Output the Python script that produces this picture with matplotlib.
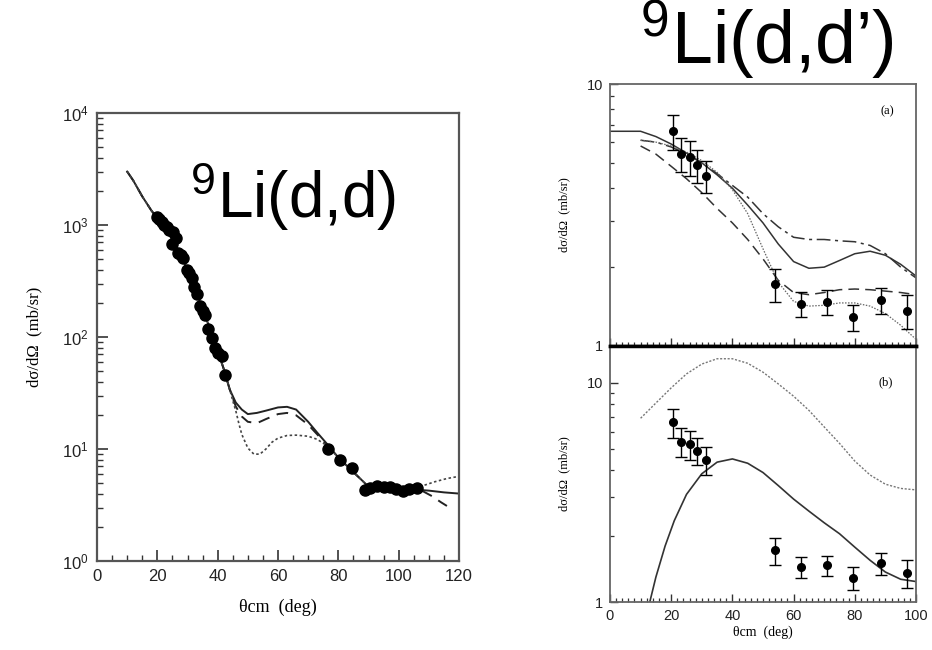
import numpy as np
import matplotlib
matplotlib.use("Agg")
import matplotlib.pyplot as plt
from matplotlib.ticker import (FixedLocator, NullFormatter, MultipleLocator,
                               LogLocator, FixedFormatter)

plt.rcParams["mathtext.fontset"] = "custom"
plt.rcParams["mathtext.rm"] = "Liberation Sans"
plt.rcParams["mathtext.it"] = "Liberation Sans:italic"
plt.rcParams["mathtext.bf"] = "Liberation Sans:bold"

SANS = ["Liberation Sans", "DejaVu Sans"]
SERIF = ["Liberation Serif", "DejaVu Serif"]

# ---------------- 9Li(d,d) elastic scattering ----------------
el_theta = [19.8, 20.6, 21.4, 22.2, 23.1, 24.0, 24.7, 25.3, 26.2, 27.0, 27.8,
            28.6, 29.7, 30.5, 31.4, 32.2, 33.0, 34.1, 35.0, 35.8, 36.9, 38.0,
            39.1, 40.2, 41.3, 42.4,
            76.7, 80.5, 84.4,
            88.8, 90.5, 92.7, 95.0, 97.1, 99.0, 101.5, 103.5, 106.0]
el_sigma = [1190, 1120, 1070, 1010, 960, 900, 680, 860, 760, 560, 540,
            505, 400, 370, 335, 280, 240, 190, 170, 158, 118, 98,
            80, 72, 68, 46,
            10.1, 8.0, 6.7,
            4.3, 4.5, 4.7, 4.55, 4.6, 4.4, 4.25, 4.4, 4.5]

el_solid_theta = [10, 12, 15, 18, 20, 23, 25, 28, 30, 33, 35, 38, 40, 42, 44,
                  46, 48, 50, 53, 56, 60, 63, 66, 70, 73, 76, 80, 84, 88, 90,
                  95, 100, 105, 110, 115, 120]
el_solid = [3000, 2500, 1800, 1350, 1150, 900, 760, 520, 400, 250, 175, 110,
            75, 52, 34, 26, 22.5, 20.5, 21, 22, 23.5, 23.8, 22.5, 17.5, 14,
            11.3, 8.4, 6.6, 5.2, 4.6, 4.45, 4.35, 4.35, 4.25, 4.1, 4.0]

el_dash_theta = [10, 12, 15, 18, 20, 23, 25, 28, 30, 33, 35, 38, 40, 42, 44,
                 46, 48, 50, 53, 56, 60, 63, 66, 70, 73, 76, 80, 84, 88, 90,
                 95, 100, 105, 108, 111, 114, 116]
el_dash = [3000, 2500, 1800, 1350, 1150, 900, 760, 520, 400, 250, 175, 110,
           75, 52, 34, 24, 19.5, 17.5, 17, 18.5, 20.5, 21, 20, 16.5, 13.5,
           11, 8.4, 6.6, 5.2, 4.6, 4.45, 4.35, 4.35, 4.2, 3.8, 3.35, 3.1]

el_dot_theta = [10, 12, 15, 18, 20, 23, 25, 28, 30, 33, 35, 38, 40, 42, 44,
                45, 46, 47, 48, 50, 52, 54, 56, 58, 60, 63, 66, 70, 73, 76,
                80, 84, 88, 90, 95, 100, 105, 108, 112, 116, 120]
el_dot = [3000, 2500, 1800, 1350, 1150, 900, 760, 520, 400, 250, 175, 110,
          75, 52, 34, 27, 22, 17, 13.5, 10.2, 9.0, 9.0, 10.0, 11.5, 12.5,
          13.2, 13.3, 13.0, 12.2, 10.8, 8.4, 6.6, 5.2, 4.6, 4.45, 4.35, 4.4,
          4.7, 5.1, 5.45, 5.7]

# ---------------- 9Li(d,d') inelastic scattering ----------------
in_theta = [20.5, 23.3, 26.0, 28.5, 31.5, 54.0, 62.5, 71.0, 79.5, 88.5, 97.0]
in_sigma = [6.6, 5.4, 5.25, 4.9, 4.45, 1.72, 1.45, 1.47, 1.29, 1.5, 1.36]
in_err = [1.0, 0.8, 0.8, 0.7, 0.63, 0.25, 0.16, 0.16, 0.15, 0.17, 0.2]

fit_theta = [0, 10, 15, 20, 25, 30, 35, 40, 45, 50, 55, 60, 65, 70, 75, 80,
             85, 90, 95, 100]
a_solid = [6.6, 6.6, 6.3, 5.9, 5.45, 5.0, 4.5, 4.0, 3.45, 2.95, 2.45, 2.1,
           1.98, 2.0, 2.12, 2.25, 2.3, 2.22, 2.05, 1.85]

curve_theta = [10, 15, 20, 25, 30, 35, 40, 45, 50, 55, 60, 65, 70, 75, 80,
               85, 90, 95, 100]
a_dashdot = [6.1, 6.0, 5.75, 5.4, 5.0, 4.55, 4.1, 3.7, 3.2, 2.85, 2.6, 2.55,
             2.55, 2.52, 2.5, 2.42, 2.25, 2.0, 1.82]
a_dashed = [5.8, 5.4, 4.85, 4.35, 3.85, 3.35, 2.95, 2.55, 2.15, 1.78, 1.6,
            1.57, 1.6, 1.64, 1.65, 1.64, 1.62, 1.6, 1.57]
a_dotted = [6.1, 6.0, 5.8, 5.5, 5.1, 4.6, 3.95, 3.2, 2.35, 1.75, 1.48, 1.42,
            1.43, 1.46, 1.46, 1.42, 1.33, 1.2, 1.06]

b_dotted = [6.9, 8.1, 9.5, 11.0, 12.2, 12.9, 12.9, 12.3, 11.2, 9.9, 8.7, 7.5,
            6.3, 5.3, 4.4, 3.8, 3.45, 3.3, 3.25]
b_solid_theta = [13, 15, 18, 21, 25, 30, 35, 40, 45, 50, 55, 60, 65, 70, 75,
                 80, 85, 90, 95, 100]
b_solid = [1.0, 1.3, 1.8, 2.35, 3.1, 3.85, 4.35, 4.5, 4.3, 3.9, 3.4, 2.95,
           2.6, 2.3, 2.05, 1.78, 1.55, 1.37, 1.27, 1.24]

W, H = 932, 650
fig = plt.figure(figsize=(W / 100, H / 100), dpi=100)


def box(x0, y0, x1, y1):
    return [x0 / W, 1 - y1 / H, (x1 - x0) / W, (y1 - y0) / H]


FRAME = "#555555"

# ---- left panel ----
axL = fig.add_axes(box(97, 113, 459, 561))
axL.set_yscale("log")
axL.set_xlim(0, 120)
axL.set_ylim(1, 1e4)
axL.plot(el_solid_theta, el_solid, color="#222222", lw=1.4)
axL.plot(el_dash_theta, el_dash, color="#222222", lw=1.4, ls=(0, (6, 4)))
axL.plot(el_dot_theta, el_dot, color="#444444", lw=1.2, ls=(0, (1.5, 1.5)))
el_err = [0.07 * s for s in el_sigma]
axL.errorbar(el_theta, el_sigma, yerr=el_err, fmt="o", ms=8, color="black",
             elinewidth=1, capsize=2)
axL.xaxis.set_major_locator(MultipleLocator(20))
axL.xaxis.set_minor_locator(MultipleLocator(5))
axL.yaxis.set_major_locator(LogLocator(base=10, numticks=10))
axL.yaxis.set_minor_locator(LogLocator(base=10, subs=np.arange(2, 10), numticks=10))
axL.yaxis.set_minor_formatter(NullFormatter())
axL.tick_params(which="both", direction="in", top=False, right=False,
                colors="#333333", labelsize=12, labelcolor="#222222")
axL.tick_params(which="major", length=8, width=1.2, pad=6)
axL.tick_params(which="minor", length=4, width=1.0)
for lab in axL.get_xticklabels() + axL.get_yticklabels():
    lab.set_family(SANS)
for s in axL.spines.values():
    s.set_color(FRAME)
    s.set_linewidth(1.6)
axL.set_xlabel("θcm  (deg)", family=SERIF, fontsize=13, labelpad=10)
axL.set_ylabel("dσ/dΩ  (mb/sr)", family=SERIF, fontsize=12, labelpad=14)

# ---- right panel (a) ----
axA = fig.add_axes(box(610, 84, 916, 346))
axA.set_yscale("log")
axA.set_xlim(0, 100)
axA.set_ylim(1, 10)
axA.plot(fit_theta, a_solid, color="#333333", lw=1.1)
axA.plot(curve_theta, a_dashdot, color="#333333", lw=1.1, ls=(0, (9, 3, 2, 3)))
axA.plot(curve_theta, a_dashed, color="#333333", lw=1.1, ls=(0, (7, 4)))
axA.plot(curve_theta, a_dotted, color="#666666", lw=0.9, ls=(0, (1.2, 1.2)))
axA.errorbar(in_theta, in_sigma, yerr=in_err, fmt="o", ms=5.5, color="black",
             elinewidth=1, capsize=4, capthick=1)
axA.text(0.905, 0.895, "(a)", transform=axA.transAxes, family=SERIF,
         fontsize=9, ha="center", va="center")

# ---- right panel (b) ----
axB = fig.add_axes(box(610, 346, 916, 602))
axB.set_yscale("log")
axB.set_xlim(0, 100)
axB.set_ylim(1, 14.75)
axB.plot(curve_theta, b_dotted, color="#777777", lw=1.0, ls=(0, (1.5, 1.2)))
axB.plot(b_solid_theta, b_solid, color="#333333", lw=1.2)
axB.errorbar(in_theta, in_sigma, yerr=in_err, fmt="o", ms=5.5, color="black",
             elinewidth=1, capsize=4, capthick=1)
axB.text(0.9, 0.86, "(b)", transform=axB.transAxes, family=SERIF,
         fontsize=9, ha="center", va="center")

for ax in (axA, axB):
    ax.xaxis.set_major_locator(MultipleLocator(20))
    ax.xaxis.set_minor_locator(MultipleLocator(2))
    ax.yaxis.set_major_locator(FixedLocator([1, 10]))
    ax.yaxis.set_major_formatter(FixedFormatter(["1", "10"]))
    ax.yaxis.set_minor_locator(FixedLocator([2, 3, 4, 5, 6, 7, 8, 9]))
    ax.yaxis.set_minor_formatter(NullFormatter())
    ax.tick_params(which="both", direction="in", top=False, right=False,
                   colors="#333333", labelsize=10.5, labelcolor="#222222")
    ax.tick_params(which="major", length=6, width=1.0, pad=5)
    ax.tick_params(which="minor", length=3, width=0.9)
    for s in ax.spines.values():
        s.set_color("#666666")
        s.set_linewidth(1.3)
    for lab in ax.get_xticklabels() + ax.get_yticklabels():
        lab.set_family(SANS)
    ax.set_ylabel("dσ/dΩ  (mb/sr)", family=SERIF, fontsize=9, labelpad=12)

axA.tick_params(axis="x", labelbottom=False)
axA.spines["bottom"].set_color("black")
axA.spines["bottom"].set_linewidth(2.5)
axB.spines["top"].set_color("black")
axB.spines["top"].set_linewidth(2.5)
axB.set_xlabel("θcm  (deg)", family=SERIF, fontsize=10, labelpad=2)

# ---- titles ----
fig.text(190 / W, 1 - 218 / H, r"$^{9}$Li(d,d)", family=SANS, fontsize=46,
         ha="left", va="baseline")
fig.text(640 / W, 1 - 64 / H, r"$^{9}$Li(d,d’)", family=SANS, fontsize=53,
         ha="left", va="baseline")

fig.savefig("out.png", dpi=100)
